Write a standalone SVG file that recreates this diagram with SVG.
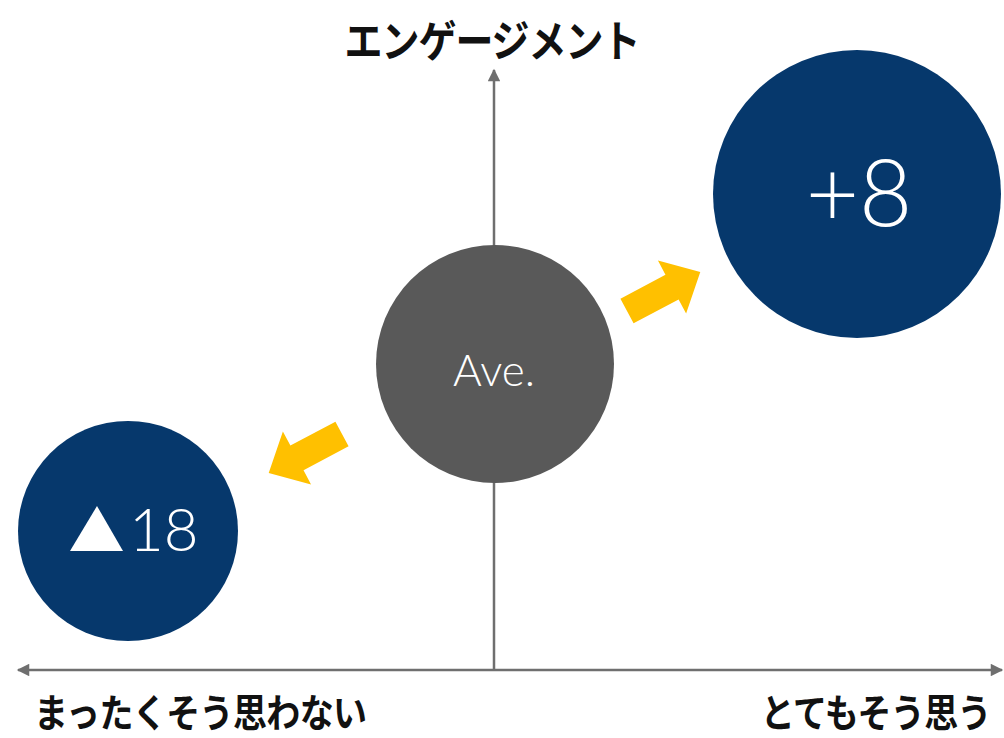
<svg xmlns="http://www.w3.org/2000/svg" width="1004" height="738" viewBox="0 0 1004 738">
<style>
.axis{stroke:#6f6f6f;stroke-width:2.5;fill:none}
.jp{font-family:"Noto Sans CJK JP","Noto Sans",sans-serif;font-weight:700;fill:#111}
.num{font-family:Lato,"Liberation Sans",sans-serif;font-weight:300;fill:#fff}
.navy{fill:#06386C}
.yarrow{fill:#FFC000}
</style>
<defs>
<marker id="ah" viewBox="0 0 10 10" refX="9" refY="5" markerWidth="5.5" markerHeight="5" orient="auto-start-reverse" markerUnits="strokeWidth">
<path d="M0,0 L10,5 L0,10 z" fill="#6f6f6f"/>
</marker>
</defs>
<rect width="1004" height="738" fill="#fff"/>
<g id="connectors">
<line class="axis" x1="494" y1="670" x2="494" y2="70" marker-end="url(#ah)"/>
<line class="axis" x1="18" y1="670" x2="1002" y2="670" marker-start="url(#ah)" marker-end="url(#ah)"/>
<path class="yarrow" transform="translate(627,311) rotate(-28)" d="M0,-14 L51,-14 L51,-30 L83,0 L51,30 L51,14 L0,14 z"/>
<path class="yarrow" transform="translate(342,434) rotate(152)" d="M0,-14 L51,-14 L51,-30 L83,0 L51,30 L51,14 L0,14 z"/>
</g>
<g id="title"><text class="jp" transform="translate(492,57) scale(1,1.15)" font-size="38" text-anchor="middle" letter-spacing="-1">エンゲージメント</text></g>
<g id="label-left"><text class="jp" transform="translate(34,727) scale(1,1.15)" font-size="34" letter-spacing="-0.6">まったくそう思わない</text></g>
<g id="label-right"><text class="jp" transform="translate(991,727) scale(1,1.15)" font-size="34" text-anchor="end" letter-spacing="-0.6">とてもそう思う</text></g>
<g id="node-ave">
<circle cx="495" cy="364" r="119" fill="#595959"/>
<text class="num" x="494" y="386" font-size="44" font-weight="400" text-anchor="middle">Ave.</text>
</g>
<g id="node-plus8">
<circle class="navy" cx="857" cy="194" r="144"/>
<text class="num" x="859" y="226" font-size="92" text-anchor="middle">+8</text>
</g>
<g id="node-minus18">
<circle class="navy" cx="128" cy="531" r="110"/>
<path d="M70,551 L97,506 L123,551 z" fill="#fff"/>
<text class="num" x="129" y="551" font-size="60">18</text>
</g>
</svg>
